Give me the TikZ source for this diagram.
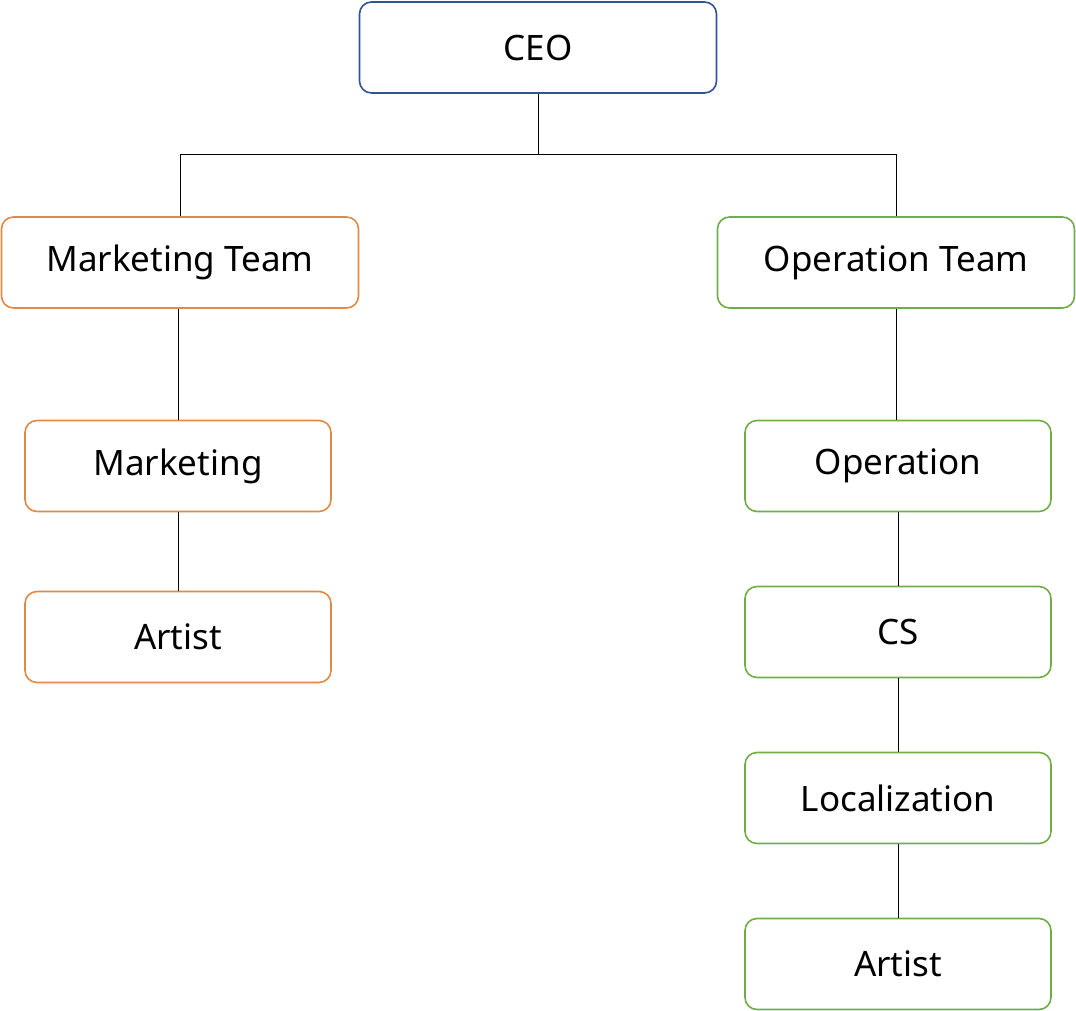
\documentclass[tikz,border=0pt]{standalone}
\usepackage{fontspec}
\setmainfont{Noto Sans}
\definecolor{cblue}{HTML}{2F5597}
\definecolor{corange}{HTML}{E08A45}
\definecolor{cgreen}{HTML}{70AD47}
\begin{document}
\begin{tikzpicture}[x=1pt,y=-1pt,
  box/.style={draw,line width=1.6pt,rounded corners=12pt,fill=white,inner sep=0pt,font=\fontsize{35}{40}\selectfont},
  big/.style={box,minimum width=357pt,minimum height=91pt},
  small/.style={box,minimum width=306pt,minimum height=91pt},
  con/.style={line width=0.9pt,black}]
\useasboundingbox (0,0) rectangle (1076,1011);
\node[big,draw=cblue] (ceo) at (538,47.5) {CEO};
\node[big,draw=corange] (mt) at (180,262.5) {Marketing Team};
\node[big,draw=cgreen] (ot) at (896,262.5) {Operation Team};
\node[small,draw=corange] (m) at (178,466) {Marketing};
\node[small,draw=corange] (a1) at (178,637) {Artist};
\node[small,draw=cgreen] (o) at (898,466) {Operation};
\node[small,draw=cgreen] (cs) at (898,632) {CS};
\node[small,draw=cgreen] (lo) at (898,798) {Localization};
\node[small,draw=cgreen] (a2) at (898,964) {Artist};
\coordinate (bus) at (538,154);
\draw[con] (ceo.south) -- (bus);
\draw[con] (bus) -| (mt.north);
\draw[con] (bus) -| (ot.north);
\draw[con] (m.north |- mt.south) -- (m.north);
\draw[con] (m.south) -- (a1.north);
\draw[con] (ot.south) -- (ot.south |- o.north);
\draw[con] (o.south) -- (cs.north);
\draw[con] (cs.south) -- (lo.north);
\draw[con] (lo.south) -- (a2.north);
\end{tikzpicture}
\end{document}
